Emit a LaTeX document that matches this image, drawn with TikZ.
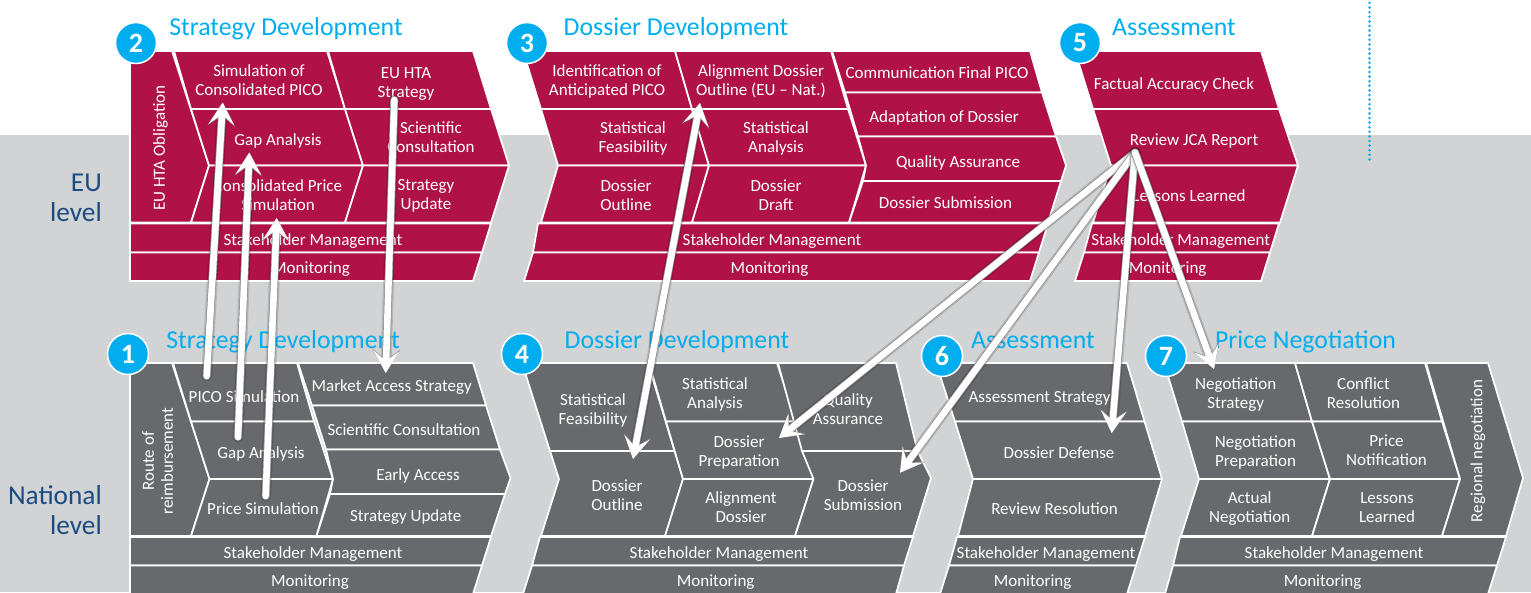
\documentclass[tikz,border=0pt]{standalone}
\usepackage{fontspec}
\setmainfont{Carlito}
\usetikzlibrary{arrows.meta}
\definecolor{crimson}{RGB}{176,18,72}
\definecolor{slate}{RGB}{104,105,109}
\definecolor{pale}{RGB}{209,211,212}
\definecolor{sky}{RGB}{0,174,239}
\definecolor{navy}{RGB}{27,75,130}
\definecolor{edgegrey}{RGB}{140,140,142}
\tikzset{
  crim/.style={fill=crimson,draw=white,line width=1.7pt,line join=miter},
  dark/.style={fill=slate,draw=white,line width=1.7pt,line join=miter},
  lab/.style={text=white,align=center,inner sep=0pt,font=\fontsize{17}{19}\selectfont,execute at begin node=\strut,execute at end node=\strut,yshift=-2.5pt},
  rotlab/.style={text=white,align=center,inner sep=0pt,font=\fontsize{17}{19}\selectfont,execute at begin node=\strut,execute at end node=\strut,xshift=2pt,rotate=90},
  ttl/.style={text=sky,inner sep=0pt,anchor=base,font=\fontsize{25.8}{28}\selectfont},
  lvl/.style={text=navy,inner sep=0pt,align=right,anchor=east,font=\fontsize{27.3}{30}\selectfont},
  badge/.style={circle,fill=sky,draw=white,line width=1.5pt,minimum size=41pt,inner sep=0pt,text=white,font=\fontsize{28}{30}\bfseries\selectfont},
  arrhalo/.style={draw=black,opacity=.14,line width=11pt,line cap=round,shorten >=16pt},
  arrunder/.style={draw=edgegrey,line width=8pt,line cap=round},
  arrover/.style={draw=white,line width=6.6pt,line cap=round},
  headu/.tip={Stealth[length=23.5pt,width=27.5pt,inset=10.5pt,color=edgegrey]},
  heado/.tip={Stealth[length=22pt,width=25.5pt,inset=10pt,color=white]},
}
% one block arrow: three passes so that it has a grey edge and a soft halo
\newcommand{\onearrow}[2]{%
  \draw[arrhalo] (#1) -- (#2);
  \draw[arrunder,-{headu}] (#1) -- (#2);
  \draw[arrover,-{heado}] (#1) -- (#2);
}
\newcommand{\twoarrow}[2]{%
  \draw[arrhalo,shorten <=16pt] (#1) -- (#2);
  \draw[arrunder,{headu}-{headu}] (#1) -- (#2);
  \draw[arrover,{heado}-{heado}] (#1) -- (#2);
}
\begin{document}
\begin{tikzpicture}[x=1pt,y=-1pt]
\useasboundingbox (0,0) rectangle (1531,592);
\fill[white] (0,0) rectangle (1531,592);
\fill[pale] (0,135) rectangle (1531,592);
\draw[sky,line width=2.8pt,line cap=round,dash pattern=on 0pt off 4.6pt] (1369.5,3) -- (1369.5,162);

% ---- panel 2
\draw[crim] (130,51)--(172,51)--(209,165.5)--(191,222.5)--(130,222.5)--cycle;
\draw[crim] (174,51)--(327,51)--(345,109)--(191,109)--cycle;
\draw[crim] (191,109)--(345,109)--(363,165.5)--(209,165.5)--cycle;
\draw[crim] (209,165.5)--(363,165.5)--(345,222.5)--(191,222.5)--cycle;
\draw[crim] (328,51)--(473,51)--(491,109)--(345,109)--cycle;
\draw[crim] (345,109)--(491,109)--(509,165.5)--(363,165.5)--cycle;
\draw[crim] (363,165.5)--(509,165.5)--(491,222.5)--(345,222.5)--cycle;
\draw[crim] (130,223.5)--(491,223.5)--(482,252.5)--(130,252.5)--cycle;
\draw[crim] (130,252.5)--(482,252.5)--(473,281)--(130,281)--cycle;
\node[rotlab] (t2a) at (159,148) {EU HTA Obligation};
\node[lab] (t2b) at (259,80.5) {Simulation of\\Consolidated PICO};
\node[lab] (t2c) at (406,82.5) {EU HTA\\Strategy};
\node[lab] (t2d) at (278,139) {Gap Analysis};
\node[lab] (t2e) at (431,137.5) {Scientific\\Consultation};
\node[lab] (t2f) at (278,195) {Consolidated Price\\Simulation};
\node[lab] (t2g) at (426,195) {Strategy\\Update};
\node[lab] (t2h) at (313,239) {Stakeholder Management};
\node[lab] (t2i) at (311,267) {Monitoring};

% ---- panel 3
\draw[crim] (523,51)--(675,51)--(692,109)--(541,109)--cycle;
\draw[crim] (541,109)--(692,109)--(709,165.5)--(558,165.5)--cycle;
\draw[crim] (558,165.5)--(709,165.5)--(692,222.5)--(541,222.5)--cycle;
\draw[crim] (675,51)--(831,51)--(848,109)--(692,109)--cycle;
\draw[crim] (692,109)--(848,109)--(866,165.5)--(709,165.5)--cycle;
\draw[crim] (709,165.5)--(866,165.5)--(849,222.5)--(692,222.5)--cycle;
\draw[crim] (832,51)--(1030,51)--(1042,92.5)--(845,92.5)--cycle;
\draw[crim] (845,92.5)--(1042,92.5)--(1056,136.5)--(858,136.5)--cycle;
\draw[crim] (858,136.5)--(1056,136.5)--(1066,165.5)--(1061,181)--(863,181)--(866,165.5)--cycle;
\draw[crim] (863,181)--(1061,181)--(1048,222.5)--(849,222.5)--cycle;
\draw[crim] (538,223.5)--(1048,223.5)--(1039,252.5)--(533,252.5)--cycle;
\draw[crim] (533,252.5)--(1039,252.5)--(1030,281)--(524,281)--cycle;
\node[lab] (t3a) at (607,80.5) {Identification of\\Anticipated PICO};
\node[lab] (t3b) at (761,80.5) {Alignment Dossier\\Outline (EU – Nat.)};
\node[lab] (t3c) at (937,72) {Communication Final PICO};
\node[lab] (t3d) at (944,116) {Adaptation of Dossier};
\node[lab] (t3e) at (633,137.5) {Statistical\\Feasibility};
\node[lab] (t3f) at (776,137.5) {Statistical\\Analysis};
\node[lab] (t3g) at (958,161) {Quality Assurance};
\node[lab] (t3h) at (626,195) {Dossier\\Outline};
\node[lab] (t3i) at (776,195) {Dossier\\Draft};
\node[lab] (t3j) at (945.5,202) {Dossier Submission};
\node[lab] (t3k) at (772,239) {Stakeholder Management};
\node[lab] (t3l) at (769.5,267) {Monitoring};

% ---- panel 5
\draw[crim] (1075,51)--(1261,51)--(1279,109)--(1093,109)--cycle;
\draw[crim] (1093,109)--(1279,109)--(1298,165.5)--(1111,165.5)--cycle;
\draw[crim] (1111,165.5)--(1298,165.5)--(1280,222.5)--(1093,222.5)--cycle;
\draw[crim] (1092,223.5)--(1279,223.5)--(1270,252.5)--(1084,252.5)--cycle;
\draw[crim] (1084,252.5)--(1270,252.5)--(1261,281)--(1075,281)--cycle;
\node[lab] (t5a) at (1174,83) {Factual Accuracy Check};
\node[lab] (t5b) at (1194,139) {Review JCA Report};
\node[lab] (t5c) at (1189,195) {Lessons Learned};
\node[lab] (t5d) at (1180.7,239) {Stakeholder Management};
\node[lab] (t5e) at (1167.7,267) {Monitoring};

% ---- panel 1
\draw[dark] (130,363)--(172,363)--(209.5,479)--(191,536)--(130,536)--cycle;
\draw[dark] (173,363)--(297,363)--(314,421.5)--(191,421.5)--cycle;
\draw[dark] (191,421.5)--(314,421.5)--(333,479)--(209.5,479)--cycle;
\draw[dark] (209.5,479)--(333,479)--(316.5,536)--(191,536)--cycle;
\draw[dark] (298,363)--(473,363)--(486,405.5)--(312,405.5)--cycle;
\draw[dark] (312,405.5)--(486,405.5)--(500,449.5)--(326,449.5)--cycle;
\draw[dark] (326,449.5)--(500,449.5)--(510.5,478)--(505,494)--(330,494)--(333,479)--cycle;
\draw[dark] (330,494)--(505,494)--(491,536)--(316.5,536)--cycle;
\draw[dark] (130,537)--(491,537)--(482,565.5)--(130,565.5)--cycle;
\draw[dark] (130,565.5)--(482,565.5)--(473,594)--(130,594)--cycle;
\node[rotlab] (t1a) at (158.5,461) {Route of\\reimbursement};
\node[lab] (t1b) at (244,396) {PICO Simulation};
\node[lab] (t1c) at (391.7,385) {Market Access Strategy};
\node[lab] (t1d) at (261,452) {Gap Analysis};
\node[lab] (t1e) at (404,429) {Scientific Consultation};
\node[lab] (t1f) at (418,474) {Early Access};
\node[lab] (t1g) at (263,508) {Price Simulation};
\node[lab] (t1h) at (405.7,515) {Strategy Update};
\node[lab] (t1i) at (313,552) {Stakeholder Management};
\node[lab] (t1j) at (310,580) {Monitoring};

% ---- panel 4
\draw[dark] (522,363)--(648,363)--(674.5,451)--(550,451)--cycle;
\draw[dark] (550,451)--(674.5,451)--(683,479)--(665,536)--(541,536)--(559,479)--cycle;
\draw[dark] (649,363)--(777,363)--(796,421.5)--(666,421.5)--cycle;
\draw[dark] (666,421.5)--(796,421.5)--(813.5,479)--(683,479)--cycle;
\draw[dark] (683,479)--(813.5,479)--(795,536)--(665,536)--cycle;
\draw[dark] (778,363)--(896,363)--(917.5,451)--(802,451)--cycle;
\draw[dark] (802,451)--(917.5,451)--(931,478)--(913,536)--(795,536)--(813.5,479)--cycle;
\draw[dark] (540,537)--(913,537)--(904,565.5)--(532,565.5)--cycle;
\draw[dark] (532,565.5)--(904,565.5)--(896,594)--(523,594)--cycle;
\node[lab] (t4a) at (593,409.5) {Statistical\\Feasibility};
\node[lab] (t4b) at (715,393.5) {Statistical\\Analysis};
\node[lab] (t4c) at (848,409.5) {Quality\\Assurance};
\node[lab] (t4d) at (739,451.5) {Dossier\\Preparation};
\node[lab] (t4e) at (617,495) {Dossier\\Outline};
\node[lab] (t4f) at (741,507.5) {Alignment\\Dossier};
\node[lab] (t4g) at (863,495) {Dossier\\Submission};
\node[lab] (t4h) at (719,552) {Stakeholder Management};
\node[lab] (t4i) at (715.7,580) {Monitoring};

% ---- panel 6
\draw[dark] (936,363)--(1127,363)--(1144.5,421.5)--(955,421.5)--cycle;
\draw[dark] (955,421.5)--(1144.5,421.5)--(1162,479)--(973,479)--cycle;
\draw[dark] (973,479)--(1162,479)--(1145,536)--(958,536)--cycle;
\draw[dark] (957,537)--(1145,537)--(1136,565.5)--(949,565.5)--cycle;
\draw[dark] (949,565.5)--(1136,565.5)--(1127,594)--(940,594)--cycle;
\node[lab] (t6a) at (1039.6,396) {Assessment Strategy};
\node[lab] (t6b) at (1059,452) {Dossier Defense};
\node[lab] (t6c) at (1054.5,508) {Review Resolution};
\node[lab] (t6d) at (1046,552) {Stakeholder Management};
\node[lab] (t6e) at (1032.6,580) {Monitoring};

% ---- panel 7
\draw[dark] (1164,363)--(1295,363)--(1312,421.5)--(1182,421.5)--cycle;
\draw[dark] (1182,421.5)--(1312,421.5)--(1330,479)--(1199,479)--cycle;
\draw[dark] (1199,479)--(1330,479)--(1312,536)--(1181,536)--cycle;
\draw[dark] (1295,363)--(1425,363)--(1442,421.5)--(1312,421.5)--cycle;
\draw[dark] (1312,421.5)--(1442,421.5)--(1460,479)--(1330,479)--cycle;
\draw[dark] (1330,479)--(1460,479)--(1442,536)--(1312,536)--cycle;
\draw[dark] (1426,363)--(1488,363)--(1523,478)--(1506,536)--(1442,536)--(1460,479)--cycle;
\draw[dark] (1180,537)--(1506,537)--(1497,565.5)--(1173,565.5)--cycle;
\draw[dark] (1173,565.5)--(1497,565.5)--(1488,594)--(1165,594)--cycle;
\node[lab] (t7a) at (1235.7,393.5) {Negotiation\\Strategy};
\node[lab] (t7b) at (1363.5,393.5) {Conflict\\Resolution};
\node[lab] (t7c) at (1255.5,451.5) {Negotiation\\Preparation};
\node[lab] (t7d) at (1386.5,450.5) {Price\\Notification};
\node[lab] (t7e) at (1249.7,507.5) {Actual\\Negotiation};
\node[lab] (t7f) at (1387,507.5) {Lessons\\Learned};
\node[rotlab] (t7g) at (1476.5,451) {Regional negotiation};
\node[lab] (t7h) at (1334,552) {Stakeholder Management};
\node[lab] (t7i) at (1322.6,580) {Monitoring};

% ---- titles, level labels, badges
\node[ttl] (h2) at (286,35) {Strategy Development};
\node[ttl] (h3) at (676,35) {Dossier Development};
\node[ttl] (h5) at (1174,35) {Assessment};
\node[ttl] (h1) at (283,348) {Strategy Development};
\node[ttl] (h4) at (677,348) {Dossier Development};
\node[ttl] (h6) at (1033,348) {Assessment};
\node[ttl] (h7) at (1305.5,348) {Price Negotiation};
\node[lvl] (l1) at (102,198) {EU\\level};
\node[lvl] (l2) at (102,510) {National\\level};
\node[badge] (b2) at (136,43) {2};
\node[badge] (b3) at (527,43) {3};
\node[badge] (b5) at (1080,43) {5};
\node[badge] (b1) at (128,354) {1};
\node[badge] (b4) at (522,354) {4};
\node[badge] (b6) at (942,356) {6};
\node[badge] (b7) at (1166,356) {7};

% ---- arrows
\coordinate (pS) at (206.7,376);   \coordinate (pE) at (222.7,102.5);
\coordinate (gS) at (238,437);     \coordinate (gE) at (249.3,152.5);
\coordinate (sS) at (265.7,496);   \coordinate (sE) at (276.7,218);
\coordinate (mS) at (394.3,100);   \coordinate (mE) at (385.7,373);
\coordinate (oS) at (700,103);     \coordinate (oE) at (633,459);
\coordinate (jca) at (1135,152.5);
\coordinate (prep) at (779,438);
\coordinate (subm) at (900,472.7);
\coordinate (defe) at (1111.7,433);
\coordinate (nego) at (1214,369);
\onearrow{pS}{pE}
\onearrow{gS}{gE}
\onearrow{sS}{sE}
\onearrow{mS}{mE}
\twoarrow{oS}{oE}
\onearrow{jca}{prep}
\onearrow{jca}{subm}
\onearrow{jca}{defe}
\onearrow{jca}{nego}
\end{tikzpicture}
\end{document}
